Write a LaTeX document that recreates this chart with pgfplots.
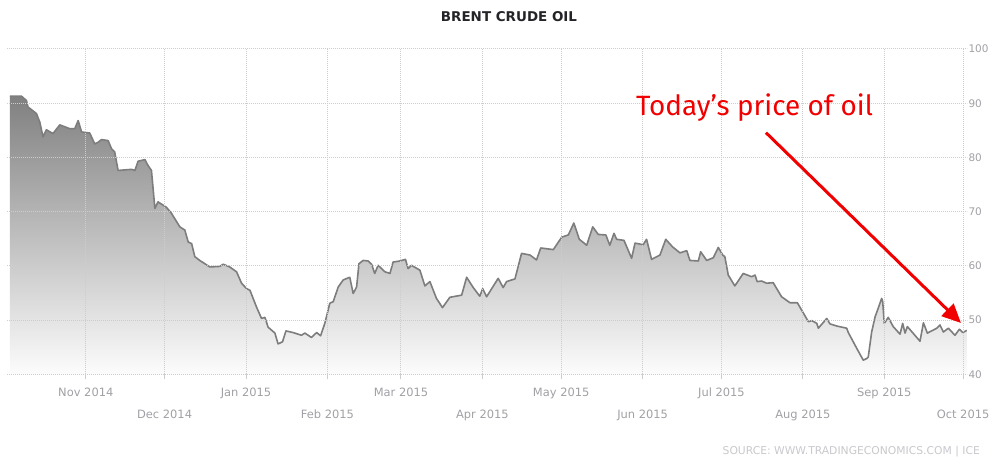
\documentclass[border=0pt]{standalone}
\usepackage{fontspec}
\setmainfont{DejaVu Sans}
\newfontfamily\annfont{Fira Sans}
\usepackage{pgfplots}
\usepackage{pgfplotstable}
\pgfplotsset{compat=1.18}
\usetikzlibrary{arrows.meta}
\definecolor{gridc}{RGB}{205,205,205}
\definecolor{labc}{RGB}{160,160,165}
\definecolor{linec}{RGB}{125,125,125}
\definecolor{filltop}{RGB}{128,128,128}
\definecolor{fillbot}{RGB}{252,252,252}
\definecolor{titlec}{RGB}{35,35,40}
\definecolor{srcc}{RGB}{200,200,205}
\definecolor{annred}{RGB}{240,0,0}

% day 0 = 1 Nov 2014
\pgfplotstableread{
day price
-28.9 91.3
-24.5 91.3
-22.6 90.5
-22.0 89.3
-18.8 88.1
-17.5 86.5
-16.3 83.8
-15.0 85.1
-12.5 84.4
-9.9 86.0
-6.1 85.3
-4.2 85.3
-2.9 86.8
-1.6 84.7
1.5 84.5
3.4 82.5
4.7 82.8
6.0 83.3
8.5 83.1
9.8 81.6
11.0 81.0
12.3 77.6
17.4 77.8
18.7 77.6
19.9 79.3
22.5 79.6
23.7 78.5
25.0 77.6
26.3 70.6
27.5 71.8
30.7 70.8
32.6 69.7
35.8 67.2
37.7 66.6
39.0 64.4
40.3 64.1
41.5 61.7
43.4 61.0
47.2 59.8
51.0 59.9
52.3 60.3
54.8 59.8
57.4 58.9
59.3 56.8
61.2 55.8
62.5 55.5
65.0 52.4
66.9 50.3
68.2 50.5
69.4 48.7
72.0 47.6
73.2 45.6
74.9 46.0
76.2 48.0
78.9 47.7
82.1 47.2
83.4 47.6
85.9 46.8
87.9 47.7
89.4 47.1
91.0 49.4
92.9 53.1
94.2 53.4
96.1 56.1
98.0 57.4
100.5 57.9
101.8 54.9
103.1 56.1
104.0 60.4
105.6 61.0
107.5 60.9
108.8 60.3
110.0 58.6
111.3 60.1
113.9 58.9
115.8 58.6
117.0 60.7
119.6 60.9
121.7 61.2
122.7 59.5
124.0 60.1
127.2 59.2
129.1 56.3
131.0 57.1
133.5 54.0
135.8 52.3
138.6 54.2
143.1 54.6
145.0 57.9
147.5 56.0
150.0 54.4
151.1 55.8
152.6 54.3
157.0 57.7
158.9 56.0
160.2 57.1
163.4 57.6
165.9 62.3
169.1 62.0
171.6 61.1
173.2 63.3
178.0 63.0
181.2 65.3
183.7 65.7
185.8 67.9
187.9 64.9
190.7 63.8
193.0 67.2
195.1 65.8
198.0 65.7
199.5 63.8
201.1 66.0
202.1 64.9
204.9 64.7
207.8 61.4
209.1 64.2
212.2 63.9
213.5 64.9
215.4 61.2
218.6 62.0
220.8 64.9
223.4 63.5
226.2 62.4
228.8 62.8
230.0 61.0
233.2 60.9
234.1 62.6
236.4 61.0
238.9 61.5
240.8 63.4
242.5 62.0
243.3 61.7
244.6 58.3
247.1 56.3
250.3 58.6
253.5 58.0
254.8 58.3
255.6 57.1
257.3 57.2
259.2 56.8
261.7 56.9
264.9 54.3
268.1 53.2
270.9 53.2
275.1 49.7
276.4 49.9
278.3 49.4
278.9 48.5
282.1 50.3
283.3 49.3
285.9 48.9
289.7 48.5
290.3 47.7
293.5 44.8
296.0 42.6
297.3 42.9
297.9 43.2
299.2 47.8
300.5 50.6
301.7 52.2
303.0 54.0
303.4 53.4
304.0 49.4
305.5 50.5
307.4 48.8
310.0 47.4
311.0 49.4
311.9 47.6
312.8 48.8
317.6 46.1
318.9 49.5
320.4 47.6
324.0 48.5
325.2 49.1
326.5 47.8
328.4 48.5
330.9 47.2
332.6 48.3
333.9 47.7
335.4 48.1
}\oil

\begin{document}
\begin{tikzpicture}[x=1bp,y=1bp]
\path[use as bounding box] (0,0) rectangle (990,461);
\begin{axis}[
  at={(7bp,86.7bp)}, anchor=south west,
  scale only axis, width=960bp, height=325.3bp,
  xmin=-30, xmax=335.5, ymin=40, ymax=100,
  axis on top,
  axis line style={draw=none},
  grid=major,
  major grid style={gridc, line width=1bp, dash pattern=on 1bp off 1bp},
  ytick={40,50,...,100},
  yticklabel pos=right,
  ytick style={draw=none},
  xtick={0,61,120,181,242,304},
  xticklabels={Nov 2014,Jan 2015,Mar 2015,May 2015,Jul 2015,Sep 2015},
  extra x ticks={30,92,151,212,273,334},
  extra x tick labels={Dec 2014,Feb 2015,Apr 2015,Jun 2015,Aug 2015,Oct 2015},
  extra x tick style={grid=major, xticklabel style={yshift=-22bp}},
  xtick pos=bottom,
  tick align=outside,
  major tick length=5bp,
  x tick style={gridc, line width=1bp},
  /pgf/number format/assume math mode=true,
  tick label style={font=\fontsize{11.5}{13}\selectfont, text=labc},
  xticklabel style={yshift=-5bp},
  yticklabel style={xshift=-7bp, font=\fontsize{10.5}{12}\selectfont},
]
\addplot[draw=none, top color=filltop, bottom color=fillbot]
  table[x=day, y=price] {\oil} -- (axis cs:335.4,40) -- (axis cs:-28.9,40) -- cycle;
\addplot[linec, line width=1.6bp, line join=round] table[x=day, y=price] {\oil};
\end{axis}
\node[anchor=base, font=\bfseries\fontsize{13.5}{15}\selectfont, text=titlec] at (509,439) {BRENT CRUDE OIL};
\node[anchor=base west, inner sep=0pt, font=\annfont\fontsize{28}{32}\selectfont, text=annred] at (636,345) {Today’s price of oil};
\draw[annred, line width=3bp, -{Triangle[length=19bp,width=17bp]}] (766,328.3) -- (961,138);
\node[anchor=base east, inner sep=0pt, font=\fontsize{10.8}{12}\selectfont, text=srcc] at (980,6) {SOURCE: WWW.TRADINGECONOMICS.COM | ICE};
\end{tikzpicture}
\end{document}
